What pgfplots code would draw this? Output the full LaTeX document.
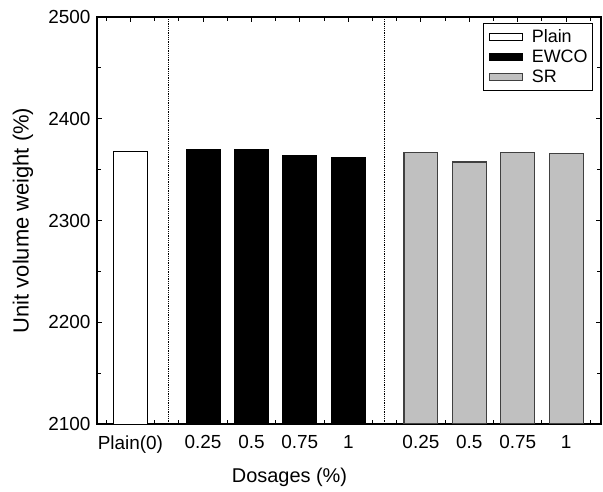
\documentclass[border=0pt]{standalone}
\usepackage{pgfplots}
\pgfplotsset{compat=1.18}
\usepackage{fontspec}
\setmainfont{Liberation Sans}
\definecolor{srgray}{RGB}{192,192,192}
\definecolor{srborder}{RGB}{64,64,64}
\pgfplotsset{mylegend/.style={legend image code/.code={\path (-2bp,0bp) (40bp,0bp);\draw[##1, line width=0.8bp] (0bp,-3.5bp) rectangle (33bp,3.5bp);}}}
\begin{document}
\begin{tikzpicture}
\begin{axis}[
  name=ax,
  scale only axis,
  width=504bp, height=407bp,
  xmin=-0.69, xmax=9.72,
  ymin=2100, ymax=2500,
  ytick={2100,2200,2300,2400,2500},
  minor ytick={2150,2250,2350,2450},
  xtick={0,1.5,2.5,3.5,4.5,6,7,8,9},
  xticklabels={Plain(0)\hspace{23bp},0.25,0.5,0.75,\raisebox{-4bp}{1},0.25,0.5,0.75,\raisebox{-4bp}{1}},
  minor xtick={-0.5,0.5,1,2,3,4,5,5.5,6.5,7.5,8.5,9.5},
  tick align=inside,
  major tick length=5bp,
  minor tick length=4bp,
  tick style={black, line width=0.9bp},
  axis line style={line width=1.3bp},
  /pgf/number format/assume math mode=true,
  /pgf/number format/1000 sep={},
  tick label style={font=\fontsize{19}{22}\selectfont},
  xticklabel style={yshift=-8bp},
  yticklabel style={xshift=-3bp},
  xlabel={Dosages (\%)},
  ylabel={Unit volume weight (\%)},
  xlabel style={at={(axis description cs:0.382,-0.132)}, anchor=center, font=\fontsize{20}{24}\selectfont},
  ylabel style={at={(axis description cs:-0.147,0.5)}, anchor=center, font=\fontsize{22}{26}\selectfont},
  legend style={at={(rel axis cs:0.984,0.986)}, anchor=north east,
    draw=black, line width=0.6bp, font=\fontsize{18}{19}\selectfont,
    row sep=1.5bp, inner xsep=3bp, inner ysep=5bp,
    nodes={inner sep=2bp}},
  legend cell align=left,
]
\addplot[ybar, bar width=0.7, bar shift=0pt, fill=white, draw=black, line width=0.9bp, mylegend]
  coordinates {(0,2368)};
\addlegendentry{Plain}
\addplot[ybar, bar width=0.7, bar shift=0pt, fill=black, draw=black, line width=0.9bp, mylegend]
  coordinates {(1.5,2370) (2.5,2370) (3.5,2364) (4.5,2362)};
\addlegendentry{EWCO\hspace{10bp}}
\addplot[ybar, bar width=0.7, bar shift=0pt, fill=srgray, draw=srborder, line width=1.1bp, mylegend]
  coordinates {(6,2366.5) (7,2357.5) (8,2366.5) (9,2365.5)};
\addlegendentry{SR}
\draw[densely dotted, line width=0.8bp] (axis cs:0.79,2100) -- (axis cs:0.79,2500);
\draw[densely dotted, line width=0.8bp] (axis cs:5.25,2100) -- (axis cs:5.25,2500);
\end{axis}
\path ([shift={(-97bp,-68bp)}]ax.south west) ([shift={(2bp,17bp)}]ax.north east);
\end{tikzpicture}
\end{document}
